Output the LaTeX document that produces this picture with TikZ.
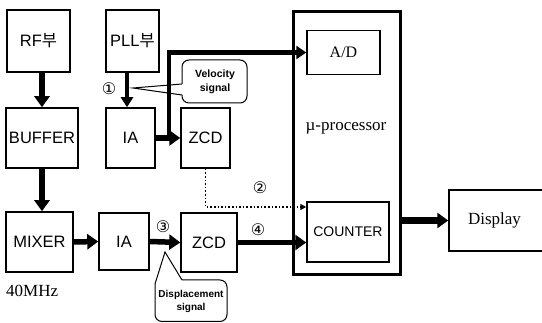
\documentclass[tikz,border=0pt]{standalone}
\usepackage{fontspec}
\setmainfont{Liberation Serif}
\newfontfamily\boxfont{Liberation Sans}
\newfontfamily\krfont{Noto Sans CJK KR}
\newfontfamily\symfont{DejaVu Sans}
\usetikzlibrary{arrows.meta,calc}
\begin{document}
\begin{tikzpicture}[x=1pt,y=-1pt,
  blk/.style={draw, line width=1.5pt, inner sep=0pt, font=\boxfont\fontsize{16.5}{18}\selectfont},
  serifbox/.style={draw, line width=1.5pt, inner sep=0pt, font=\fontsize{16}{18}\selectfont},
  thk/.style={line width=5.5pt, -{Triangle[length=11pt,width=15pt]}},
  mid/.style={line width=3.5pt, -{Triangle[length=10pt,width=12pt]}},
  dotline/.style={line width=1.6pt, dotted, -{Triangle[length=6pt,width=6pt]}},
  numlbl/.style={font=\symfont\fontsize{16}{16}\selectfont, inner sep=0pt},
  calloutline/.style={line width=1pt},
  callouttext/.style={font=\boxfont\bfseries\fontsize{10}{13}\selectfont, align=center, inner sep=0pt}
]
\useasboundingbox (0,0) rectangle (542,323);

% boxes
\node[blk, minimum width=63pt, minimum height=62pt] (RF) at (38.5,41) {RF{\krfont 부}};
\node[blk, minimum width=53pt, minimum height=62pt] (PLL) at (132.5,41) {PLL{\krfont 부}};
\node[blk, minimum width=72pt, minimum height=60pt] (BUF) at (42,138) {BUFFER};
\node[blk, minimum width=49pt, minimum height=60pt] (IA1) at (130.5,138) {IA};
\node[blk, minimum width=49pt, minimum height=60pt] (ZCD1) at (205.5,138) {ZCD};
\node[blk, minimum width=67pt, minimum height=60pt] (MIX) at (39.5,242) {MIXER};
\node[blk, minimum width=50pt, minimum height=57pt] (IA2) at (124,241.5) {IA};
\node[blk, minimum width=56pt, minimum height=59pt] (ZCD2) at (209,242.5) {ZCD};

% micro-processor
\node[draw, line width=3pt, minimum width=107pt, minimum height=263pt, inner sep=0pt] (UP) at (346.5,143.5) {};
\node[font=\fontsize{17}{18}\selectfont, inner sep=0pt] (UPT) at (346,128) {µ-processor};
\node[serifbox, minimum width=73pt, minimum height=44pt] (AD) at (343.5,52.5) {A/D};
\node[blk, font=\boxfont\fontsize{14}{16}\selectfont, minimum width=82pt, minimum height=60pt] (CNT) at (348,232) {COUNTER};
\node[serifbox, font=\fontsize{17}{18}\selectfont, minimum width=99pt, minimum height=61pt, text width=99pt, align=left] (DISP) at (498.5,220.5) {\hspace*{19pt}Display};

\node[font=\fontsize{17}{18}\selectfont, inner sep=0pt, anchor=west] (MHZ) at (6,291) {40MHz};

% thick connectors
\draw[thk] (RF.south -| BUF.north) -- (BUF.north);
\draw[thk] (BUF.south) -- (BUF.south |- MIX.north);
\draw[mid] ([xshift=-5.5pt]PLL.south) -- ([xshift=-5.5pt]PLL.south |- IA1.north);
\draw[thk] (IA1.east) -- (ZCD1.west);
\coordinate (br) at (169,138);
\draw[line width=4.5pt, -{Triangle[length=10pt,width=13pt]}] (br) |- (AD.west);
\draw[thk] (MIX.east) -- (IA2.west);
\draw[thk] (IA2.east) -- (ZCD2.west);
\draw[thk] (ZCD2.east) -- (ZCD2.east -| CNT.west);
\draw[dotline] (ZCD1.south) |- ([yshift=25pt]CNT.west);
\draw[thk, line width=6.5pt] (UP.east |- DISP.west) -- (DISP.west);

% numbers
\node[numlbl] (n1) at (109,89) {①};
\node[numlbl] (n2) at (260,188) {②};
\node[numlbl] (n3) at (163,227) {③};
\node[numlbl] (n4) at (258,230) {④};

% velocity callout
\draw[calloutline] (182,84) -- (133,88) -- (182,95);
\draw[calloutline, rounded corners=7pt] (182,95) -- (182,103) -- (247,103) -- (247,60) -- (182,60) -- (182,84);
\node[callouttext, font=\boxfont\bfseries\fontsize{10.5}{14}\selectfont] (vel) at (215,82) {Velocity\\signal};

% displacement callout
\draw[calloutline] (155,284) -- (165,252) -- (182,280);
\draw[calloutline, rounded corners=7pt] (182,280) -- (227,280) -- (227,321.5) -- (155,321.5) -- (155,284);
\node[callouttext] (dsp) at (191,301) {Displacement\\signal};
\end{tikzpicture}
\end{document}
